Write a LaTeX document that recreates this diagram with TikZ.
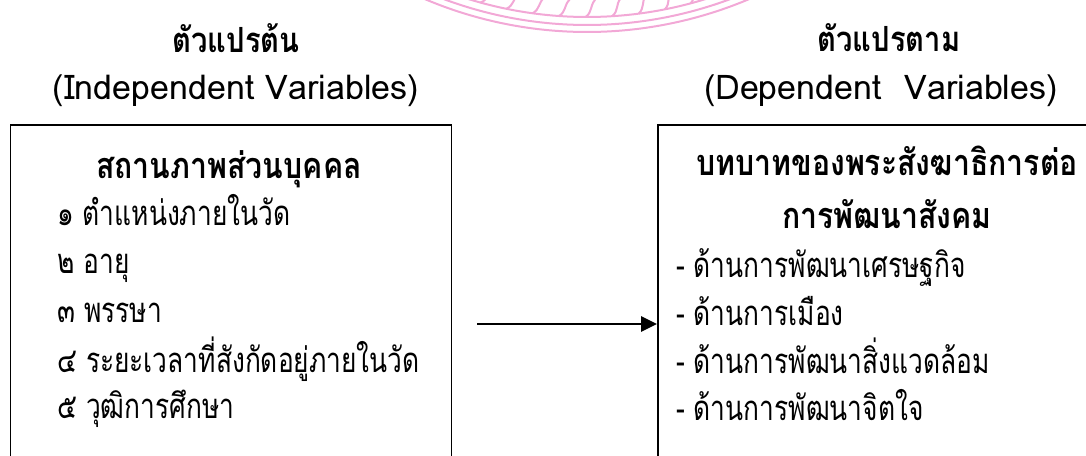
\documentclass[tikz,border=0pt]{standalone}
\usepackage{fontspec}
\setmainfont[Script=Thai]{Loma}
\newfontfamily\thbody[Script=Thai, FakeStretch=0.76]{Loma}
\newfontfamily\thhead[Script=Thai, FakeStretch=0.84]{Loma}
\usetikzlibrary{arrows.meta}
\definecolor{sealpink}{RGB}{242,168,214}
\tikzset{
  varbox/.style={draw, line width=1.2pt, anchor=north west, inner sep=0pt},
  title/.style={font=\thhead\fontsize{26}{30}\selectfont\bfseries, anchor=base},
  subtitle/.style={font=\fontsize{25.5}{30}\selectfont, anchor=base},
  head/.style={font=\thhead\fontsize{27}{31}\selectfont\bfseries, anchor=base},
  item/.style={font=\thbody\fontsize{26}{30}\selectfont, anchor=base west, inner sep=0pt}
}
\begin{document}
\begin{tikzpicture}[x=0.75pt,y=-0.75pt]
  \useasboundingbox (0,0) rectangle (1086,455);
  \clip (0,0) rectangle (1086,455);
  % seal watermark at the top
  \begin{scope}[shift={(587,-384)}, sealpink, line width=1.5pt]
    \draw plot[domain=64:116, samples=80] (\x:416);
    \draw plot[domain=64:116, samples=80] (\x:409);
    \draw plot[domain=64:116, samples=80] (\x:401);
    \foreach \a in {66,69.8,...,114}
      \draw (\a:384) .. controls (\a+0.8:390) and (\a+0.4:396) .. (\a+1.4:401);
  \end{scope}
  % headings
  \node[title] (ivtitle) at (236,52) {ตัวแปรต้น};
  \node[subtitle] (ivsub) at (236,99) {(Independent Variables)};
  \node[title] (dvtitle) at (889,51) {ตัวแปรตาม};
  \node[subtitle] (dvsub) at (881,99) {(Dependent\ \ Variables)};
  % boxes
  \node[varbox, minimum width=330.75pt, minimum height=270pt] (ivbox) at (9.5,124) {};
  \node[varbox, minimum width=345pt, minimum height=270pt] (dvbox) at (657,124) {};
  % independent variables
  \node[head] (ivhead) at (229,178) {สถานภาพส่วนบุคคล};
  \node[item] (iv1) at (57,225) {๑ ตำแหน่งภายในวัด};
  \node[item] (iv2) at (57,273) {๒ อายุ};
  \node[item] (iv3) at (57,322) {๓ พรรษา};
  \node[item] (iv4) at (57,372) {๔ ระยะเวลาที่สังกัดอยู่ภายในวัด};
  \node[item] (iv5) at (57,418) {๕ วุฒิการศึกษา};
  % dependent variables
  \node[head] (dvhead) at (887,175) {บทบาทของพระสังฆาธิการต่อ};
  \node[head] (dvhead2) at (887,228) {การพัฒนาสังคม};
  \node[item] (dv1) at (676,277) {- ด้านการพัฒนาเศรษฐกิจ};
  \node[item] (dv2) at (676,325) {- ด้านการเมือง};
  \node[item] (dv3) at (676,373) {- ด้านการพัฒนาสิ่งแวดล้อม};
  \node[item] (dv4) at (676,420) {- ด้านการพัฒนาจิตใจ};
  % arrow
  \coordinate (arrstart) at (477,324);
  \draw[-{Triangle[length=12pt,width=11.5pt]}, line width=1.3pt] (arrstart) -- (arrstart -| dvbox.west);
\end{tikzpicture}
\end{document}
